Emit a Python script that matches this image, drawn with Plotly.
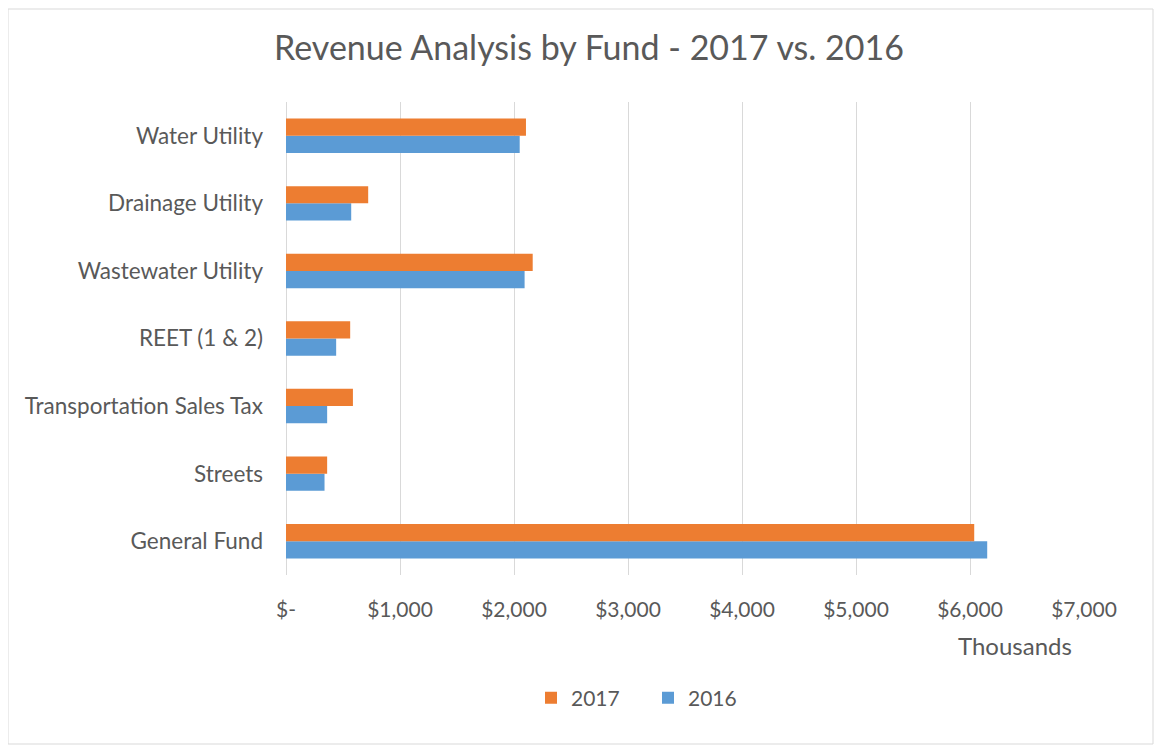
import plotly.graph_objects as go

categories = ["General Fund", "Streets", "Transportation Sales Tax", "REET (1 & 2)",
              "Wastewater Utility", "Drainage Utility", "Water Utility"]
values_2016 = [6151, 338, 361, 440, 2093, 572, 2050]
values_2017 = [6037, 361, 587, 563, 2164, 721, 2105]
tick_vals = [0, 1000, 2000, 3000, 4000, 5000, 6000, 7000]
tick_text = ["$-", "$1,000", "$2,000", "$3,000", "$4,000", "$5,000", "$6,000", "$7,000"]

OFF = 8  # page body margin
W, H = 1162 - 2 * OFF, 753 - 2 * OFF
L, T = 286 - OFF, 102 - OFF
R = W - (1084 - OFF)
B = H - (575 - OFF)
pw, ph = W - L - R, H - T - B

FONT = "Lato, 'Open Sans', sans-serif"
GREY = "#595959"

fig = go.Figure()
fig.add_trace(go.Bar(y=categories, x=values_2016, name="2016", orientation="h",
                     marker=dict(color="#5B9BD5", line=dict(width=0))))
fig.add_trace(go.Bar(y=categories, x=values_2017, name="2017", orientation="h",
                     marker=dict(color="#ED7D31", line=dict(width=0))))

def px_x(p):
    return (p - OFF - L) / pw

def px_y(p):
    return (H - B - (p - OFF)) / ph

fig.update_layout(
    width=W, height=H,
    margin=dict(l=L, r=R, t=T, b=B),
    paper_bgcolor="white", plot_bgcolor="white",
    barmode="group", bargap=0.49, bargroupgap=0,
    title=dict(text="Revenue Analysis by Fund - 2017 vs. 2016",
               x=(589 - OFF) / W, xanchor="center",
               y=1 - (48 - OFF) / H, yanchor="middle",
               font=dict(family=FONT, size=34, color=GREY)),
    font=dict(family=FONT, size=21, color=GREY),
    xaxis=dict(range=[0, 7000], tickvals=tick_vals, ticktext=tick_text,
               showgrid=True, gridcolor="#D9D9D9", gridwidth=1,
               zeroline=True, zerolinecolor="#D9D9D9", zerolinewidth=1,
               showline=False, ticks="", ticklabelstandoff=20,
               tickfont=dict(family=FONT, size=21, color=GREY), fixedrange=True),
    yaxis=dict(showgrid=False, zeroline=False, showline=False, ticks="",
               ticklabelstandoff=22,
               tickfont=dict(family=FONT, size=22.5, color=GREY)),
    legend=dict(orientation="h", traceorder="reversed", x=px_x(648), xanchor="center",
                y=px_y(698), yanchor="middle", entrywidth=72, entrywidthmode="pixels",
                font=dict(family=FONT, size=21, color=GREY)),
    showlegend=True,
    annotations=[dict(text="Thousands", xref="paper", yref="paper",
                      x=px_x(1015), y=px_y(645), xanchor="center", yanchor="middle",
                      showarrow=False, font=dict(family=FONT, size=24, color=GREY))],
    shapes=[dict(type="rect", xref="paper", yref="paper",
                 x0=-L / pw, x1=(pw + R - 1) / pw, y0=-(B - 1) / ph, y1=(ph + T - 1) / ph,
                 line=dict(color="#D9D9D9", width=1), fillcolor="rgba(0,0,0,0)")],
)

fig.write_html("out.html")
